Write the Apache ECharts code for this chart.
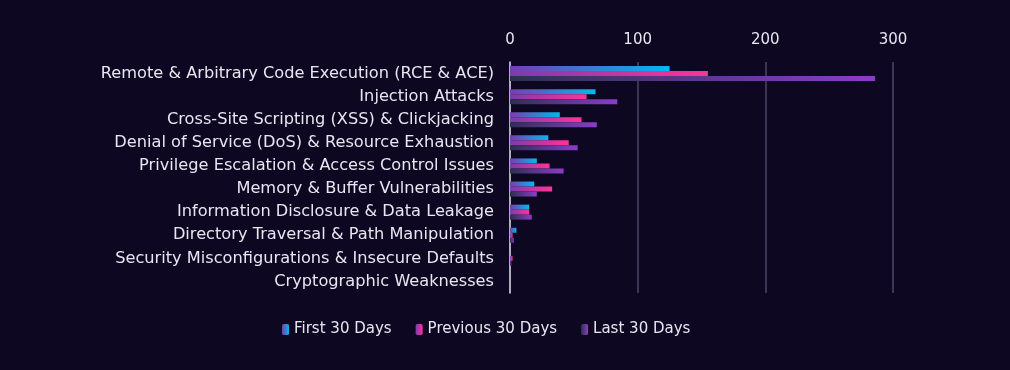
<!DOCTYPE html>
<html><head><meta charset="utf-8">
<script src="https://cdn.jsdelivr.net/npm/echarts@6/dist/echarts.min.js"></script>
<style>html,body{margin:0;padding:0;background:#0d0722;}#c{width:1010px;height:370px;}</style>
</head><body><div id="c"></div>
<script>
const categories = [
  "Remote & Arbitrary Code Execution (RCE & ACE)",
  "Injection Attacks",
  "Cross-Site Scripting (XSS) & Clickjacking",
  "Denial of Service (DoS) & Resource Exhaustion",
  "Privilege Escalation & Access Control Issues",
  "Memory & Buffer Vulnerabilities",
  "Information Disclosure & Data Leakage",
  "Directory Traversal & Path Manipulation",
  "Security Misconfigurations & Insecure Defaults",
  "Cryptographic Weaknesses"
];
const first30 = [125, 67, 39, 30, 21, 19, 15, 5, 0, 0];
const previous30 = [155, 60, 56, 46, 31, 33, 15, 2, 2, 0];
const last30 = [286, 84, 68, 53, 42, 21, 17, 3, 1, 0];
const seriesNames = ["First 30 Days", "Previous 30 Days", "Last 30 Days"];

const FONT = "DejaVu Sans";
function grad(a, b) {
  return new echarts.graphic.LinearGradient(0, 0, 1, 0, [
    {offset: 0, color: a}, {offset: 1, color: b}
  ]);
}
const colors = [
  grad('#7a3cae', '#00b8f2'),
  grad('#7a3cae', '#ff3399'),
  grad('#2c3150', '#8c3cc8')
];
const data = [first30, previous30, last30];
const chart = echarts.init(document.getElementById('c'));
chart.setOption({
  backgroundColor: '#0d0722',
  animation: false,
  grid: {left: 510, right: 117, top: 62, bottom: 77, containLabel: false},
  xAxis: {
    type: 'value', position: 'top', min: 0, max: 300, interval: 100,
    axisLine: {show: false}, axisTick: {show: false},
    axisLabel: {color: '#e8e6f0', fontFamily: FONT, fontSize: 15, margin: 14},
    splitLine: {lineStyle: {color: '#4a4766', width: 1.5}}
  },
  yAxis: {
    type: 'category', inverse: true, data: categories,
    axisLine: {show: true, lineStyle: {color: '#d8d6e0', width: 1.5}},
    axisTick: {show: false},
    axisLabel: {color: '#e8e6f0', fontFamily: FONT, fontSize: 16.2, margin: 16, interval: 0}
  },
  legend: {
    bottom: 28, left: 277, itemWidth: 7, itemHeight: 11, itemGap: 24,
    textStyle: {color: '#e8e6f0', fontFamily: FONT, fontSize: 15},
    data: seriesNames
  },
  series: seriesNames.map((n, i) => ({
    name: n, type: 'bar', data: data[i], barWidth: 5, barGap: '0%',
    itemStyle: {color: colors[i]}
  }))
});
</script></body></html>
